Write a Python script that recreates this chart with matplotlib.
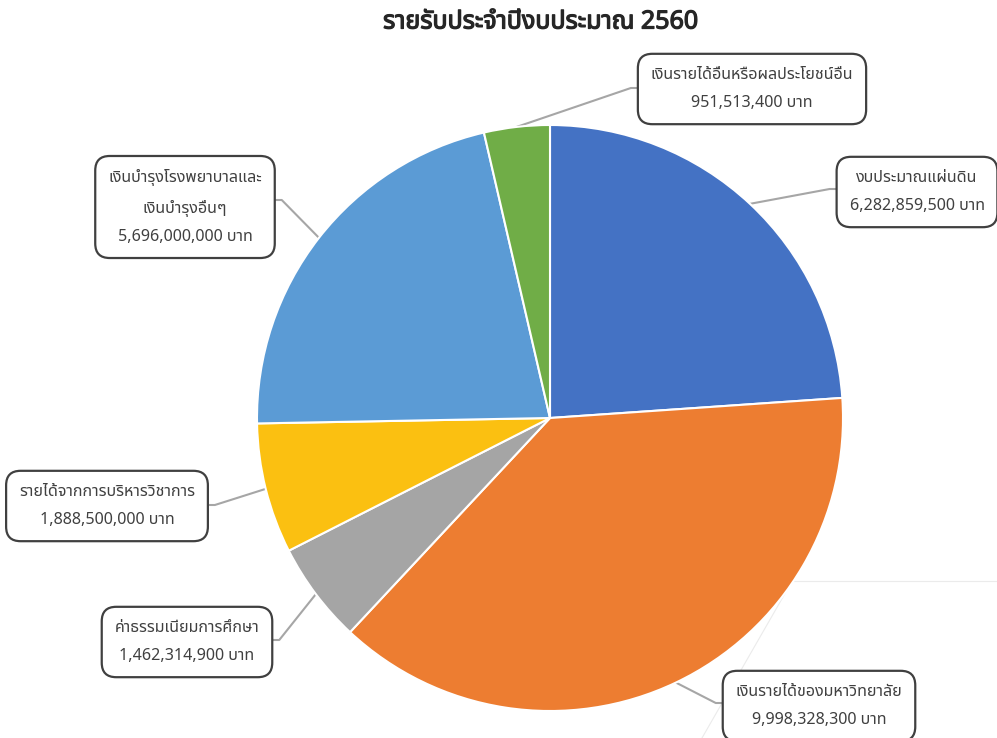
import matplotlib
matplotlib.use("Agg")
import matplotlib.pyplot as plt
import matplotlib.patheffects as pe
import numpy as np
from matplotlib import font_manager
from matplotlib.ft2font import FT2Font

TITLE = "รายรับประจำปีงบประมาณ 2560"
categories = ["งบประมาณแผ่นดิน", "เงินรายได้ของมหาวิทยาลัย",
              "ค่าธรรมเนียมการศึกษา", "รายได้จากการบริหารวิชาการ",
              "เงินบำรุงโรงพยาบาลและ\nเงินบำรุงอื่นๆ",
              "เงินรายได้อื่นหรือผลประโยชน์อื่น"]
values = [6282859500, 9998328300, 1462314900, 1888500000, 5696000000, 951513400]
colors = ["#4472C4", "#ED7D31", "#A5A5A5", "#FBC011", "#5B9BD5", "#70AD47"]

# label box centres in pixel coords (y from top)
box_pos = [(917, 192), (819, 706), (187, 642), (107, 506), (185, 207), (752, 89)]
# height (from top) where the leader line meets the box
line_y = [189, 703, 640, 505, 200, 88]

W, H = 997, 738
CENTER = (550, 418)
RADIUS = 293


def thai_family():
    """Find an installed family that has Thai glyphs."""
    names = []
    for f in font_manager.fontManager.ttflist:
        try:
            if 0x0E23 in FT2Font(f.fname).get_charmap():
                names.append(f.name)
        except Exception:
            continue
    for pref in ["Tahoma", "Leelawadee UI", "Noto Sans Thai", "Noto Sans Thai UI",
                 "Sarabun", "Loma", "Garuda", "Noto Sans"]:
        if pref in names:
            return pref
    return names[0] if names else "DejaVu Sans"


fam = [thai_family(), "DejaVu Sans"]
plt.rcParams["font.family"] = fam

fig = plt.figure(figsize=(W / 100, H / 100), dpi=100)
ax = fig.add_axes([0, 0, 1, 1])

cx, cy = CENTER[0], H - CENTER[1]
wedges, _ = ax.pie(values, colors=colors, startangle=90, counterclock=False,
                   center=(cx, cy), radius=RADIUS, frame=True,
                   wedgeprops=dict(edgecolor="white", linewidth=1.5, zorder=2))
ax.set_xlim(0, W)
ax.set_ylim(0, H)
ax.set_aspect("equal")
ax.axis("off")

# faint stray guide lines seen in the source screenshot
ax.plot([793, W], [H - 581, H - 581], color="#EBEBEB", lw=0.8, zorder=0)
ax.plot([787, 702], [H - 590, 0], color="#EBEBEB", lw=0.8, zorder=0)

labels = []
for name, val, (bx, by) in zip(categories, values, box_pos):
    t = ax.text(bx, H - by, f"{name}\n{val:,} บาท", ha="center", va="center",
                fontsize=11.6, color="#404040", linespacing=2.05, zorder=5,
                bbox=dict(boxstyle="round,pad=0.8,rounding_size=0.9",
                          fc="white", ec="#404040", lw=1.6))
    labels.append(t)

# leader lines: from the wedge edge to the side of its label box
fig.canvas.draw()
inv = ax.transData.inverted()
for w, t, (bx, by), ly in zip(wedges, labels, box_pos, line_y):
    ang = np.deg2rad((w.theta1 + w.theta2) / 2)
    sx = cx + RADIUS * np.cos(ang)
    sy = cy + RADIUS * np.sin(ang)
    ext = t.get_bbox_patch().get_window_extent()
    (x0, _), (x1, _) = inv.transform([[ext.x0, 0], [ext.x1, 0]])
    ex = x0 if bx > cx else x1
    step = 7 if bx > cx else -7
    ey = H - ly
    ax.plot([sx, ex - step, ex], [sy, ey, ey], color="#A6A6A6", lw=1.5,
            zorder=1, solid_joinstyle="round")

fig.text(0.542, 1 - 22 / H, TITLE, ha="center", va="center", fontsize=18,
         fontweight="bold", color="#262626",
         path_effects=[pe.withStroke(linewidth=0.9, foreground="#262626")])

fig.savefig("out.png", dpi=100)
